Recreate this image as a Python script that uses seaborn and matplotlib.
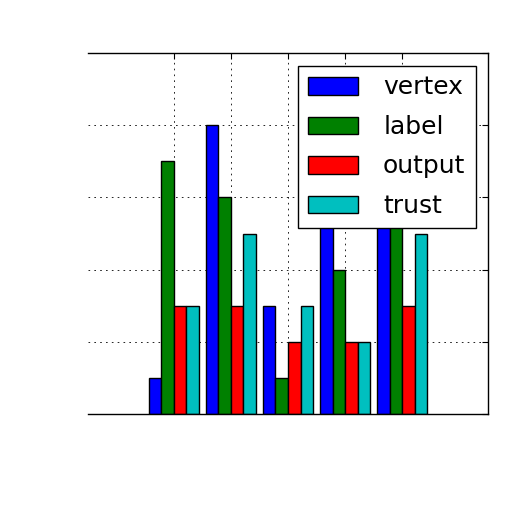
import pandas as pd
import matplotlib
matplotlib.use("Agg")
import matplotlib.pyplot as plt
import seaborn as sns

# Données (les barres cachées par la légende sont estimées)
groupes = ["1", "2", "3", "4", "5"]
series = ["vertex", "label", "output", "trust"]
vertex = [0.5, 4.0, 1.5, 4.0, 3.5]
label = [3.5, 3.0, 0.5, 2.0, 3.0]
output = [1.5, 1.5, 1.0, 1.0, 1.5]
trust = [1.5, 2.5, 1.5, 1.0, 2.5]
couleurs = ["#0000ff", "#008000", "#ff0000", "#00bfbf"]

df = pd.DataFrame({
    "groupe": groupes * 4,
    "serie": [s for s in series for _ in groupes],
    "valeur": vertex + label + output + trust,
})

sns.set_style("white")
plt.rcParams["font.family"] = ["DejaVu Sans"]
plt.rcParams["text.color"] = "black"

fig = plt.figure(figsize=(5.12, 5.12), dpi=100)
ax = fig.add_axes([88 / 512, 1 - 414 / 512, 400 / 512, 361 / 512])

sns.barplot(data=df, x="groupe", y="valeur", hue="serie", order=groupes,
            hue_order=series, palette=couleurs, width=0.88, gap=0,
            edgecolor="black", linewidth=1, saturation=1, ax=ax)

ax.set_xlim(-1.5, 5.5)
ax.set_ylim(0, 5)
ax.set_yticks([0, 1, 2, 3, 4, 5])
ax.grid(True, color="black", linestyle=(0, (2, 5)), linewidth=0.6)
ax.set_axisbelow(True)
ax.tick_params(direction="in", length=4, labelleft=False, labelbottom=False,
               top=True, right=True, bottom=True, left=False, color="black")
ax.set_xlabel("")
ax.set_ylabel("")
ax.spines["left"].set_visible(False)
for s in ["top", "right", "bottom"]:
    ax.spines[s].set_color("black")
    ax.spines[s].set_linewidth(1)

leg = ax.legend(loc="upper right", fontsize=18, fancybox=False,
                framealpha=1, borderaxespad=0.5, handlelength=2,
                handletextpad=1.0, labelspacing=0.62, labelcolor="black")
leg.get_frame().set_edgecolor("black")
leg.get_frame().set_linewidth(1)

fig.savefig("out.png", dpi=100, facecolor="white")
